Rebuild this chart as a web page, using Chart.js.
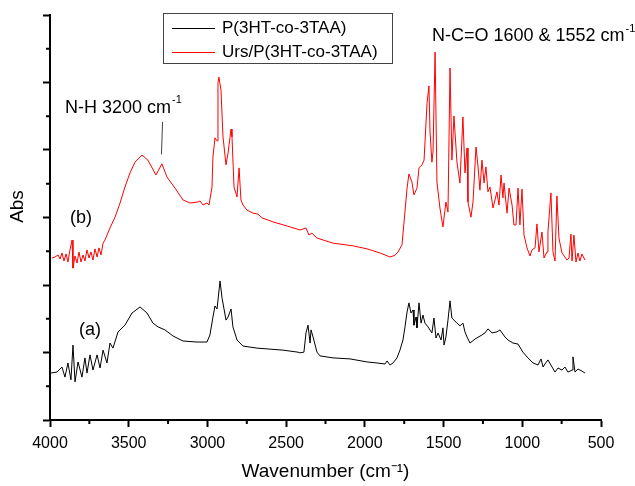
<!DOCTYPE html>
<html>
<head>
<meta charset="utf-8">
<script src="https://cdn.jsdelivr.net/npm/chart.js@4.4.0/dist/chart.umd.min.js"></script>
<style>
body { margin: 0; background: #fff; }
</style>
</head>
<body>
<canvas id="ftir" width="635" height="486"></canvas>
<script>
// (a) P(3HT-co-3TAA)
const wnA = [3995,3956,3924,3905,3886,3867,3854,3841,3822,3797,3778,3765,3746,3727,3701,3682,3663,3638,3619,3600,
  3568,3524,3479,3428,3384,3346,3314,3270,3219,3155,3066,3003,2984,2965,2952,2939,2920,2907,2882,2869,
  2850,2838,2812,2774,2685,2603,2520,2425,2412,2387,2374,2361,2348,2342,2329,2304,2285,2202,2094,1986,
  1923,1872,1859,1840,1821,1796,1777,1758,1745,1732,1720,1707,1694,1688,1675,1669,1656,1643,1631,1618,
  1599,1574,1561,1548,1535,1516,1504,1497,1485,1472,1459,1447,1434,1415,1396,1377,1364,1351,1332,1300,
  1256,1237,1218,1192,1161,1142,1110,1091,1059,1027,996,964,932,900,881,868,856,837,811,792,
  773,748,729,710,684,678,665,646,621,602];
const absA = [0.139,0.142,0.157,0.127,0.169,0.119,0.222,0.113,0.172,0.127,0.184,0.139,0.193,0.148,0.193,0.154,0.207,0.169,0.228,0.213,
  0.261,0.281,0.317,0.335,0.317,0.287,0.276,0.267,0.249,0.234,0.231,0.231,0.252,0.305,0.338,0.329,0.412,0.361,0.296,0.305,
  0.329,0.276,0.237,0.219,0.213,0.210,0.207,0.201,0.199,0.201,0.258,0.281,0.228,0.267,0.246,0.201,0.190,0.184,0.181,0.172,
  0.169,0.166,0.175,0.163,0.169,0.184,0.207,0.237,0.276,0.320,0.347,0.317,0.326,0.281,0.305,0.273,0.347,0.287,0.311,0.287,
  0.276,0.258,0.302,0.243,0.258,0.237,0.273,0.222,0.246,0.296,0.353,0.302,0.296,0.287,0.279,0.287,0.261,0.246,0.228,0.240,
  0.252,0.258,0.270,0.258,0.261,0.267,0.246,0.237,0.228,0.225,0.201,0.184,0.169,0.163,0.181,0.157,0.166,0.178,0.157,0.142,
  0.154,0.148,0.157,0.142,0.148,0.187,0.142,0.151,0.145,0.139];

// (b) Urs/P(3HT-co-3TAA)
const wnB = [3987,3968,3949,3936,3924,3911,3898,3886,3873,3860,3854,3841,3828,3816,3803,3790,3778,3765,3752,3740,
  3727,3714,3701,3689,3676,3663,3651,3619,3587,3555,3524,3492,3460,3416,3378,3327,3289,3257,3206,3155,
  3111,3060,3047,3028,3003,2990,2971,2965,2952,2939,2933,2927,2914,2901,2882,2869,2850,2844,2831,2812,
  2799,2787,2774,2749,2711,2679,2653,2584,2495,2412,2374,2355,2336,2304,2202,2075,1986,1904,1840,1809,
  1789,1764,1751,1732,1720,1701,1688,1669,1656,1637,1624,1605,1593,1586,1574,1567,1554,1542,1523,1504,
  1485,1472,1459,1447,1434,1415,1396,1377,1364,1351,1345,1326,1313,1294,1281,1269,1256,1243,1231,1218,
  1205,1186,1161,1148,1135,1123,1116,1097,1084,1065,1053,1040,1027,1015,1002,989,970,951,938,919,
  907,894,875,862,843,837,818,805,792,780,767,748,729,716,703,691,684,672,659,646,
  634,621,602];
const absB = [0.480,0.483,0.489,0.477,0.495,0.471,0.492,0.468,0.504,0.533,0.450,0.486,0.465,0.498,0.468,0.489,0.471,0.504,0.480,0.498,
  0.474,0.507,0.483,0.510,0.489,0.524,0.533,0.569,0.601,0.643,0.690,0.732,0.764,0.785,0.770,0.726,0.759,0.720,0.687,0.652,
  0.643,0.646,0.649,0.637,0.643,0.637,0.690,0.779,0.836,0.827,0.999,1.016,0.978,0.839,0.756,0.791,0.862,0.839,0.690,0.661,
  0.747,0.652,0.637,0.622,0.613,0.610,0.599,0.587,0.575,0.563,0.569,0.548,0.554,0.539,0.524,0.516,0.507,0.495,0.483,0.488,
  0.498,0.519,0.587,0.687,0.729,0.705,0.667,0.687,0.747,0.756,0.770,0.939,0.990,0.853,0.764,0.794,1.090,0.705,0.628,0.572,
  0.646,0.616,1.043,0.770,0.901,0.764,0.702,0.898,0.732,0.806,0.646,0.601,0.646,0.809,0.750,0.681,0.770,0.702,0.750,0.676,
  0.690,0.628,0.676,0.637,0.726,0.658,0.702,0.613,0.687,0.637,0.578,0.578,0.687,0.578,0.684,0.548,0.510,0.486,0.504,0.510,
  0.581,0.498,0.557,0.480,0.498,0.557,0.673,0.498,0.471,0.664,0.539,0.495,0.483,0.474,0.480,0.551,0.471,0.548,0.468,0.495,
  0.471,0.492,0.474];

const xTicks = [4000,3500,3000,2500,2000,1500,1000,500];
const xMinor = [3750,3250,2750,2250,1750,1250,750];
const yTicks = [0,0.2,0.4,0.6,0.8,1.0,1.2];
const yMinor = [0.1,0.3,0.5,0.7,0.9,1.1];

const FONT = "'Liberation Sans', Arial, sans-serif";

function pairs(xs, ys) {
  let out = [];
  for (let i = 0; i < Math.min(xs.length, ys.length); i++) out.push({x: xs[i], y: ys[i]});
  return out;
}

// text with a small raised "-1"
function supText(ctx, text, sup, x, y, size) {
  ctx.textAlign = 'left';
  ctx.textBaseline = 'middle';
  ctx.font = size + 'px ' + FONT;
  ctx.fillText(text, x, y);
  let w = ctx.measureText(text).width;
  ctx.font = Math.round(size * 0.62) + 'px ' + FONT;
  ctx.fillText(sup, x + w + 1, y - size * 0.42);
}

const extras = {
  id: 'extras',
  afterDraw(chart) {
    const ctx = chart.ctx, sx = chart.scales.x, sy = chart.scales.y, area = chart.chartArea;
    ctx.save();
    // minor ticks
    ctx.strokeStyle = '#000';
    ctx.lineWidth = 2;
    ctx.beginPath();
    xMinor.forEach(v => { let p = sx.getPixelForValue(v); ctx.moveTo(p, area.bottom); ctx.lineTo(p, area.bottom + 4); });
    yMinor.forEach(v => { let p = sy.getPixelForValue(v); ctx.moveTo(area.left, p); ctx.lineTo(area.left - 4, p); });
    ctx.stroke();

    // y axis title
    ctx.save();
    ctx.translate(18, (area.top + area.bottom) / 2 - 11);
    ctx.rotate(-Math.PI / 2);
    ctx.fillStyle = '#000';
    ctx.font = '19px ' + FONT;
    ctx.textAlign = 'center';
    ctx.textBaseline = 'middle';
    ctx.fillText('Abs', 0, 0);
    ctx.restore();

    // legend box
    let lx = sx.getPixelForValue(3282), rx = sx.getPixelForValue(1828);
    let ty = sy.getPixelForValue(1.206), by = sy.getPixelForValue(1.058);
    ctx.lineWidth = 1;
    ctx.strokeStyle = '#444';
    ctx.strokeRect(Math.round(lx) + 0.5, Math.round(ty) + 0.5, Math.round(rx - lx), Math.round(by - ty));
    chart.data.datasets.forEach((ds, i) => {
      let yy = Math.round(ty + 15 + i * 24) + 0.5;
      ctx.strokeStyle = ds.borderColor;
      ctx.beginPath();
      ctx.moveTo(lx + 9, yy);
      ctx.lineTo(lx + 52, yy);
      ctx.stroke();
      ctx.fillStyle = '#000';
      ctx.font = '17px ' + FONT;
      ctx.textAlign = 'left';
      ctx.textBaseline = 'middle';
      ctx.fillText(ds.label, lx + 59, yy);
    });

    // annotations
    ctx.fillStyle = '#000';
    supText(ctx, 'N-H 3200 cm', '-1', sx.getPixelForValue(3905), sy.getPixelForValue(0.925), 18);
    supText(ctx, 'N-C=O 1600 & 1552 cm', '-1', sx.getPixelForValue(1574), sy.getPixelForValue(1.137), 18);
    ctx.font = '18px ' + FONT;
    ctx.textBaseline = 'middle';
    ctx.fillText('(b)', sx.getPixelForValue(3873), sy.getPixelForValue(0.599));
    ctx.fillText('(a)', sx.getPixelForValue(3816), sy.getPixelForValue(0.267));
    ctx.strokeStyle = '#444';
    ctx.lineWidth = 1;
    ctx.beginPath();
    ctx.moveTo(sx.getPixelForValue(3285), sy.getPixelForValue(0.883));
    ctx.lineTo(sx.getPixelForValue(3292), sy.getPixelForValue(0.787));
    ctx.stroke();
    ctx.restore();
  }
};

new Chart(document.getElementById('ftir'), {
  type: 'scatter',
  data: {
    datasets: [
      { label: 'P(3HT-co-3TAA)', data: pairs(wnA, absA), borderColor: '#000000', showLine: true, pointRadius: 0, borderWidth: 1, tension: 0 },
      { label: 'Urs/P(3HT-co-3TAA)', data: pairs(wnB, absB), borderColor: '#ff0000', showLine: true, pointRadius: 0, borderWidth: 1, tension: 0 }
    ]
  },
  options: {
    responsive: false,
    animation: false,
    layout: { padding: { top: 15, right: 34, left: 0, bottom: 0 } },
    plugins: { legend: { display: false }, tooltip: { enabled: false } },
    scales: {
      x: {
        type: 'linear',
        reverse: true,
        min: 500,
        max: 4000,
        afterBuildTicks: s => { s.ticks = xTicks.map(v => ({ value: v })); },
        afterFit: s => { s.height = 66; },
        ticks: { color: '#000', font: { family: FONT, size: 16 }, padding: 7, maxRotation: 0, callback: v => String(v) },
        grid: { drawOnChartArea: false, tickLength: 7, tickWidth: 2, tickColor: '#000' },
        border: { color: '#000', width: 2 },
        title: { display: true, text: 'Wavenumber (cm\u207B\u00B9)', color: '#000', font: { family: FONT, size: 19 }, padding: { top: 0, bottom: 3 } }
      },
      y: {
        min: 0,
        max: 1.2,
        afterBuildTicks: s => { s.ticks = yTicks.map(v => ({ value: v })); },
        afterFit: s => { s.width = 50; },
        ticks: { display: false },
        grid: { drawOnChartArea: false, tickLength: 7, tickWidth: 2, tickColor: '#000' },
        border: { color: '#000', width: 2 },
        title: { display: false }
      }
    }
  },
  plugins: [extras]
});
</script>
</body>
</html>
